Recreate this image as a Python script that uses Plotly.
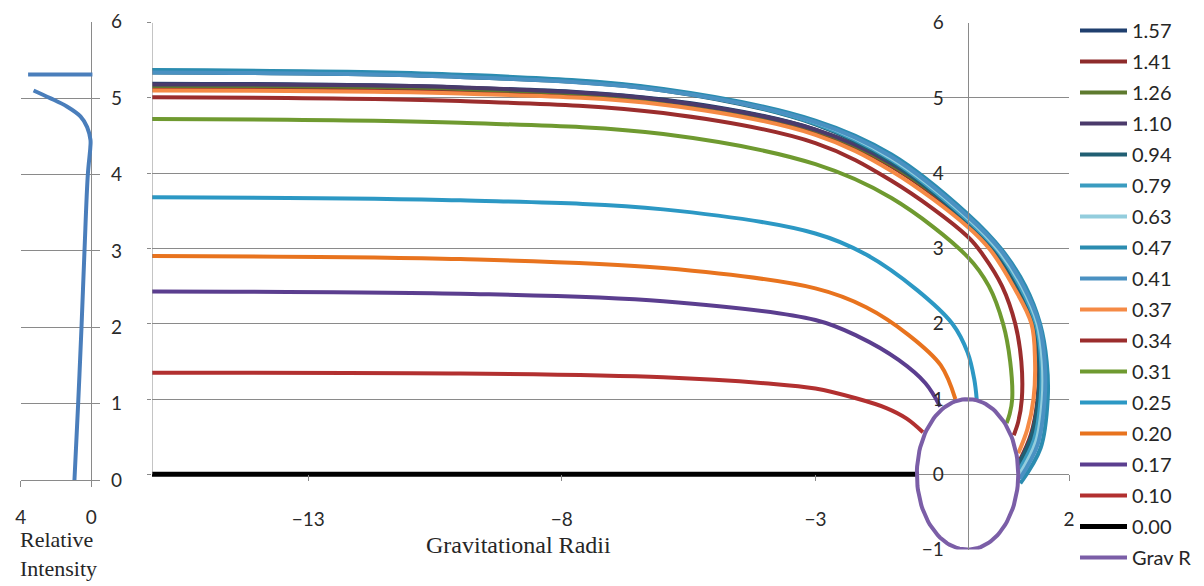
import numpy as np
import plotly.graph_objects as go

# ---------------- data ----------------
# Left panel: relative intensity profile vs height
INT_X = [0.95, 0.74, 0.55, 0.38, 0.19, 0.05, 0.04, 0.23, 0.61, 1.38, 2.33, 3.27]
INT_Y = [0.0, 1.0, 2.0, 3.0, 4.0, 4.35, 4.45, 4.62, 4.76, 4.89, 5.00, 5.10]
BAR_X = [3.58, -0.07]
BAR_Y = [5.31, 5.31]

# Main panel: trajectories (x in gravitational radii, y height)
X_157 = [-16.1, -10, -6, -3, -1.5, 0, 0.54, 1.00, 1.33, 1.42, 1.40, 1.28, 1.02]
Y_157 = [5.19, 5.14, 4.98, 4.58, 4.11, 3.36, 2.98, 2.5, 2.0, 1.5, 1.0, 0.50, 0.12]
X_141 = [-16.1, -10, -6, -3, -1.5, 0, 0.52, 0.97, 1.31, 1.40, 1.38, 1.25, 1.01]
Y_141 = [5.14, 5.10, 4.94, 4.55, 4.09, 3.34, 2.98, 2.5, 2.0, 1.5, 1.0, 0.53, 0.16]
X_126 = [-16.1, -10, -6, -3, -1.5, 0, 0.55, 1.01, 1.34, 1.43, 1.42, 1.29, 1.02]
Y_126 = [5.16, 5.12, 4.96, 4.57, 4.11, 3.37, 2.98, 2.5, 2.0, 1.5, 1.0, 0.49, 0.10]
X_110 = [-16.1, -10, -6, -3, -1.5, 0, 0.57, 1.02, 1.35, 1.44, 1.43, 1.30, 1.02]
Y_110 = [5.18, 5.14, 4.97, 4.58, 4.13, 3.38, 2.98, 2.5, 2.0, 1.5, 1.0, 0.48, 0.08]
X_094 = [-16.1, -10, -6, -3, -1.5, 0, 0.53, 0.98, 1.32, 1.41, 1.39, 1.26, 1.01]
Y_094 = [5.34, 5.28, 5.10, 4.65, 4.15, 3.35, 2.98, 2.5, 2.0, 1.5, 1.0, 0.51, 0.14]
X_079 = [-16.1, -10, -6, -3, -1.5, 0, 0.58, 1.03, 1.35, 1.45, 1.44, 1.31, 1.02]
Y_079 = [5.35, 5.29, 5.11, 4.66, 4.18, 3.38, 2.98, 2.5, 2.0, 1.5, 1.0, 0.46, 0.06]
X_063 = [-16.1, -10, -6, -3, -1.5, 0, 0.61, 1.07, 1.38, 1.48, 1.48, 1.35, 1.03]
Y_063 = [5.36, 5.30, 5.11, 4.68, 4.20, 3.41, 2.98, 2.5, 2.0, 1.5, 1.0, 0.43, 0.00]
X_047 = [-16.1, -10, -6, -3, -1.5, 0, 0.68, 1.14, 1.43, 1.56, 1.58, 1.44, 1.04]
Y_047 = [5.37, 5.31, 5.12, 4.70, 4.25, 3.46, 2.98, 2.5, 2.0, 1.5, 1.0, 0.35, -0.12]
X_041 = [-16.1, -10, -6, -3, -1.5, 0, 0.65, 1.10, 1.41, 1.52, 1.52, 1.38, 1.03]
Y_041 = [5.34, 5.28, 5.10, 4.68, 4.22, 3.43, 2.98, 2.5, 2.0, 1.5, 1.0, 0.39, -0.06]
X_037 = [-16.1, -10, -6, -3, -1.5, 0, 0.45, 0.90, 1.26, 1.33, 1.30, 1.18, 1.00]
Y_037 = [5.10, 5.06, 4.91, 4.51, 4.03, 3.29, 2.98, 2.5, 2.0, 1.5, 1.0, 0.60, 0.28]
X_034 = [-16.1, -10, -6, -3, -1.5, 0, 0.32, 0.68, 0.94, 1.06, 1.07, 1.00, 0.91]
Y_034 = [5.01, 4.96, 4.80, 4.40, 3.90, 3.16, 2.90, 2.5, 2.0, 1.5, 1.0, 0.70, 0.52]
X_031 = [-16.1, -10, -6, -3, -1.5, 0, 0.42, 0.70, 0.84, 0.88, 0.83, 0.77]
Y_031 = [4.72, 4.67, 4.52, 4.12, 3.67, 2.89, 2.5, 2.0, 1.5, 1.0, 0.80, 0.68]
X_025 = [-16.1, -10, -6, -3, -2, -1, -0.3, 0.0, 0.13, 0.18]
Y_025 = [3.68, 3.64, 3.52, 3.20, 2.92, 2.45, 2.00, 1.62, 1.27, 1.00]
X_020 = [-16.1, -10, -6, -3, -2, -1.16, -0.53, -0.24]
Y_020 = [2.90, 2.86, 2.74, 2.47, 2.22, 1.85, 1.45, 1.00]
X_017 = [-16.1, -10, -6, -3, -2.15, -1.36, -0.83, -0.54]
Y_017 = [2.43, 2.40, 2.30, 2.05, 1.83, 1.52, 1.21, 0.90]
X_010 = [-16.1, -10, -6, -4, -3, -2.2, -1.6, -1.2, -0.88]
Y_010 = [1.35, 1.34, 1.29, 1.21, 1.14, 1.01, 0.88, 0.74, 0.56]
X_000 = [-16.1, -1.0]
Y_000 = [0.0, 0.0]

GRAV_R = 1.0

LABELS = ["1.57", "1.41", "1.26", "1.10", "0.94", "0.79", "0.63", "0.47",
          "0.41", "0.37", "0.34", "0.31", "0.25", "0.20", "0.17", "0.10", "0.00"]
COLORS = ["#1F3F6E", "#8E2B2B", "#5E7A2E", "#4B3A6B", "#215F73", "#3A9CC0",
          "#93CDDD", "#2B8CB0", "#4A91C2", "#F58A45", "#9B2D2D", "#6F9A30",
          "#2C98C4", "#E8731E", "#5B3E8F", "#B23030", "#000000"]
XS = [X_157, X_141, X_126, X_110, X_094, X_079, X_063, X_047, X_041,
      X_037, X_034, X_031, X_025, X_020, X_017, X_010, X_000]
YS = [Y_157, Y_141, Y_126, Y_110, Y_094, Y_079, Y_063, Y_047, Y_041,
      Y_037, Y_034, Y_031, Y_025, Y_020, Y_017, Y_010, Y_000]

X_TICKS_MAIN = [-13, -8, -3, 2]
Y_TICKS_MAIN = [-1, 0, 1, 2, 3, 4, 5, 6]
Y_GRID_MAIN = [0, 1, 2, 3, 4, 5, 6]
X_TICKS_LEFT = [4, 0]
Y_TICKS_LEFT = [0, 1, 2, 3, 4, 5, 6]

# ---------------- figure ----------------
OFF = 8  # page body margin
W, H = 1204 - OFF, 586 - OFF
GRID = "#8A8A8A"
TICKFONT = dict(family="Lato", size=19, color="#2A2A2A")

fig = go.Figure()

# left panel
fig.add_trace(go.Scatter(x=INT_X, y=INT_Y, mode="lines",
                         line=dict(color="#4A7EBB", width=4, shape="spline", smoothing=1.0),
                         xaxis="x", yaxis="y", showlegend=False, hoverinfo="skip"))
fig.add_trace(go.Scatter(x=BAR_X, y=BAR_Y, mode="lines", line=dict(color="#4A7EBB", width=4),
                         xaxis="x", yaxis="y", showlegend=False, hoverinfo="skip"))

# main traces
for lab, col, xs, ys in zip(LABELS, COLORS, XS, YS):
    w = 5 if lab == "0.00" else 4
    ln = dict(color=col, width=w)
    if len(xs) > 2:
        ln.update(shape="spline", smoothing=1.0)
    fig.add_trace(go.Scatter(x=xs, y=ys, mode="lines", name=lab, legendgroup=lab,
                             line=ln, xaxis="x2", yaxis="y2"))

theta = np.linspace(0, 2 * np.pi, 121)
fig.add_trace(go.Scatter(x=GRAV_R * np.cos(theta), y=GRAV_R * np.sin(theta), mode="lines",
                         name="Grav R", legendgroup="Grav R",
                         line=dict(color="#7B5EA7", width=4), xaxis="x2", yaxis="y2"))
# dummy for label axis
fig.add_trace(go.Scatter(x=[None], y=[None], xaxis="x2", yaxis="y3", showlegend=False, hoverinfo="skip"))

# geometry (page pixels -> paper)
def px(v):
    return (v - OFF) / W

def py(v):
    return 1 - (v - OFF) / H

MX0, MX1 = 152, 1069
XR = [-16.08, 2]
x0_paper = px(MX0 + (0 - XR[0]) / (XR[1] - XR[0]) * (MX1 - MX0))
MY_TOP, MY_BOT = 22.7, 549.6
YR = [-1, 6]
y0_paper = py(MY_BOT - (0 - YR[0]) / (YR[1] - YR[0]) * (MY_BOT - MY_TOP))

fig.update_layout(
    width=W, height=H,
    margin=dict(l=0, r=0, t=0, b=0, autoexpand=False),
    paper_bgcolor="white", plot_bgcolor="white",
    xaxis=dict(domain=[px(20.7), px(100)], range=[4, -0.5], anchor="y", automargin=False,
               tickmode="array", tickvals=X_TICKS_LEFT, ticks="outside", ticklen=6, tickcolor=GRID,
               showline=True, linecolor=GRID, linewidth=1, showgrid=False,
               zeroline=True, zerolinecolor=GRID, zerolinewidth=1,
               tickfont=TICKFONT, ticklabelstandoff=14),
    yaxis=dict(domain=[py(480), py(21.7)], range=[0, 6], anchor="x", side="right", automargin=False,
               tickmode="array", tickvals=Y_TICKS_LEFT, showgrid=True, gridcolor=GRID, gridwidth=1,
               zeroline=False, showline=False, ticks="", tickfont=TICKFONT, ticklabelstandoff=10),
    xaxis2=dict(domain=[px(MX0), px(MX1)], range=XR, anchor="free", position=y0_paper, automargin=False,
                tickmode="array", tickvals=X_TICKS_MAIN, ticks="outside", ticklen=6, tickcolor=GRID,
                showline=False, showgrid=False, zeroline=False,
                tickfont=TICKFONT, ticklabelstandoff=22),
    yaxis2=dict(domain=[py(MY_BOT), py(MY_TOP)], range=YR, anchor="x2", automargin=False,
                tickmode="array", tickvals=Y_GRID_MAIN, showgrid=True, gridcolor=GRID, gridwidth=1,
                showticklabels=False, ticks="outside", ticklen=4, tickcolor=GRID,
                zeroline=False, showline=False),
    yaxis3=dict(domain=[py(MY_BOT), py(MY_TOP)], range=YR, overlaying="y2", anchor="free",
                position=x0_paper, side="left", automargin=False,
                tickmode="array", tickvals=Y_TICKS_MAIN, showgrid=False, zeroline=False,
                showline=True, linecolor=GRID, linewidth=1, ticks="",
                tickfont=TICKFONT, ticklabelstandoff=20),
    legend=dict(x=px(1075), y=py(11), xanchor="left", yanchor="top",
                font=dict(family="Lato", size=20, color="#262626"),
                itemwidth=47, tracegroupgap=2, bgcolor="rgba(0,0,0,0)"),
    shapes=[dict(type="line", xref="x2", yref="y2", x0=XR[0], x1=XR[0], y0=0, y1=6,
                 line=dict(color=GRID, width=1))],
    annotations=[
        dict(text="Relative<br>Intensity", xref="paper", yref="paper", x=px(18), y=py(525),
             xanchor="left", yanchor="top", align="left", showarrow=False,
             font=dict(family="Liberation Serif", size=22, color="#262626")),
        dict(text="Gravitational Radii", xref="paper", yref="paper", x=px(518), y=py(545),
             xanchor="center", yanchor="middle", showarrow=False,
             font=dict(family="Liberation Serif", size=24, color="#262626")),
    ],
)

fig.write_html("out.html")
